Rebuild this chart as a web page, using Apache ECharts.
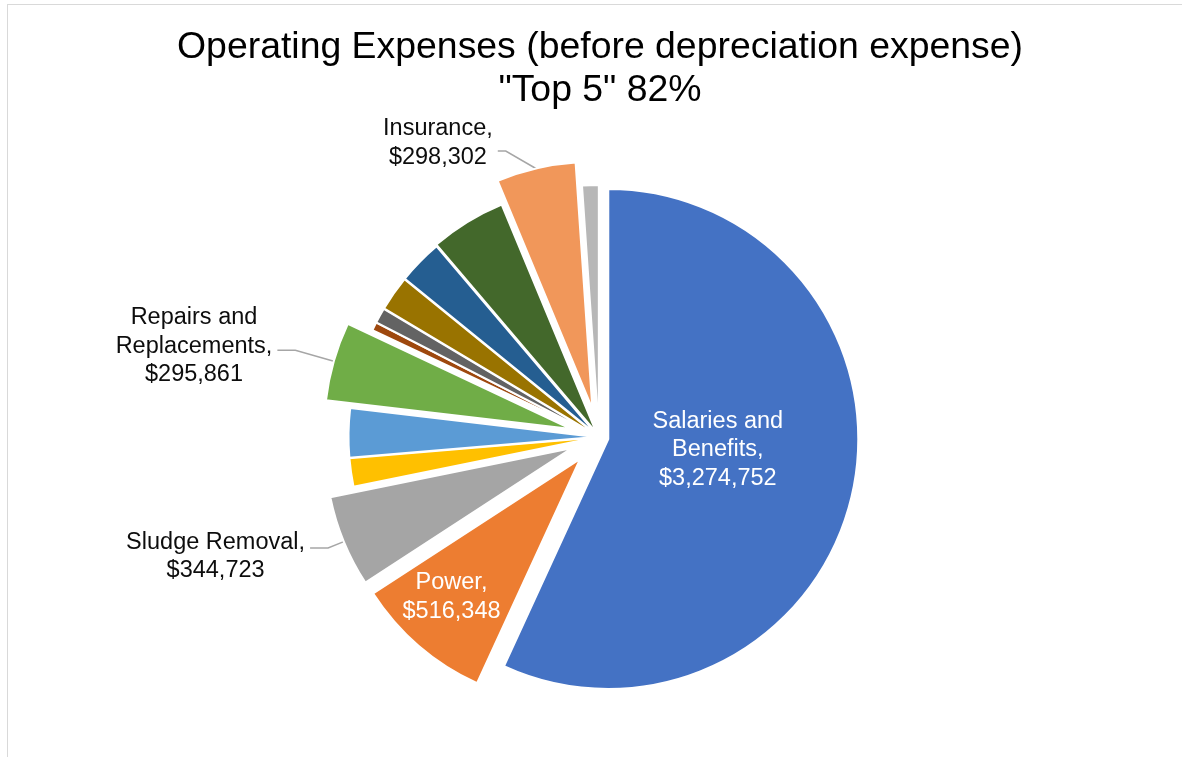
<!DOCTYPE html>
<html>
<head>
<meta charset="utf-8">
<script src="https://cdn.jsdelivr.net/npm/echarts@6/dist/echarts.min.js"></script>
<style>
  html, body { margin: 0; padding: 0; background: #fff; overflow: hidden; }
  #frame { position: absolute; left: 7px; top: 4px; width: 1300px; height: 900px; border: 1px solid #d9d9d9; }
  #chart { position: absolute; left: 0; top: 0; width: 1182px; height: 757px; }
</style>
</head>
<body>
<div id="frame"></div>
<div id="chart"></div>
<script>
// Operating expense categories, clockwise from 12 o'clock
const categories = [
  'Salaries and Benefits', 'Power', 'Sludge Removal', 'Other 1', 'Other 2',
  'Repairs and Replacements', 'Other 3', 'Other 4', 'Other 5', 'Other 6',
  'Other 7', 'Insurance', 'Other 8'
];
const amounts = [
  3274752, 516348, 344723, 107350, 184260,
  295861, 32050, 57680, 132990, 168240,
  285000, 298302, 62490
];
const titleLines = ['Operating Expenses (before depreciation expense)', '"Top 5" 82%'];

// Styling: slice colours, how far each slice is pulled out (px) and slice radius (px)
const colors = [
  '#4472C4', '#ED7D31', '#A5A5A5', '#FFC000', '#5B9BD5',
  '#70AD47', '#9E480E', '#636363', '#997300', '#255E91',
  '#43682B', '#F1975A', '#B7B7B7'
];
const explode = [9.5, 28.8, 28.8, 3.5, 3.5, 28.8, 3.5, 3.5, 3.5, 3.5, 5, 28.8, 5];
const radii   = [250, 247, 247, 247, 247, 247, 247, 247, 247, 247, 247, 247, 247];
const pieCenter = [599, 437];

// Label placement per labelled slice; "straight" leaders run directly to the text
const labelStyle = {
  0:  { position: 'inside',  rich: 'w', padding: [0, 31, 33, 0] },
  1:  { position: 'inside',  rich: 'w', padding: [85, 92, 0, 0] },
  2:  { position: 'outside', rich: 'k', padding: [17, 0, 0, 0], length: 17, length2: 18 },
  5:  { position: 'outside', rich: 'k', padding: [0, 0, 8, 0],  length: 40, length2: 18 },
  11: { position: 'outside', rich: 'k', padding: [0, 0, 16, 0], length: 18, length2: 34, straight: 8 }
};

const FONT = 'Liberation Sans, Arial, sans-serif';
const money = v => '$' + v.toLocaleString('en-US');

function makeFormatter(tag) {
  return function (p) {
    const text = p.name.replace(' and ', ' and\n') + ',\n' + money(p.value);
    return text.split('\n').map(l => '{' + tag + '|' + l + '}').join('\n');
  };
}

const rich = {
  w: { color: '#ffffff', fontFamily: FONT, fontSize: 23.5, lineHeight: 28.5, align: 'center' },
  k: { color: '#0d0d0d', fontFamily: FONT, fontSize: 23.5, lineHeight: 28.5, align: 'center' }
};

// Replace the elbow of a leader line with a diagonal run and a short flat end
function leaderLayout(params) {
  const ls = labelStyle[params.dataIndex];
  const pts = params.labelLinePoints;
  if (!ls || !ls.straight || !pts || pts.length < 3) return;
  const end = pts[2];
  const dir = end[0] < pts[1][0] ? 1 : -1;
  return {
    labelLinePoints: [pts[0], [end[0] + dir * ls.straight, end[1]], end]
  };
}

// One pie layer per explosion distance; every layer carries all values so the
// angles line up, but only draws the slices that belong to it.
const offsets = [...new Set(explode)].sort((a, b) => a - b);
const series = offsets.map(off => {
  const owner = explode.indexOf(off);
  return {
    type: 'pie',
    center: pieCenter,
    radius: radii[owner],
    startAngle: 90,
    clockwise: true,
    selectedMode: off > 0 ? 'multiple' : false,
    selectedOffset: off,
    avoidLabelOverlap: false,
    silent: true,
    animation: false,
    emphasis: { disabled: true },
    itemStyle: { borderColor: '#ffffff', borderWidth: 2 },
    select: { itemStyle: { borderColor: '#ffffff', borderWidth: 2 } },
    label: { show: false },
    labelLine: { show: false },
    labelLayout: leaderLayout,
    data: categories.map((name, i) => {
      const item = { name, value: amounts[i] };
      if (explode[i] !== off) {
        item.itemStyle = { color: 'rgba(0,0,0,0)', borderWidth: 0 };
        return item;
      }
      item.itemStyle = { color: colors[i] };
      if (off > 0) item.selected = true;
      const ls = labelStyle[i];
      if (ls) {
        item.label = {
          show: true,
          position: ls.position,
          formatter: makeFormatter(ls.rich),
          rich: rich,
          padding: ls.padding,
          distanceToLabelLine: 5,
          fontFamily: FONT,
          fontSize: 23.5,
          lineHeight: 28.5,
          color: ls.rich === 'w' ? '#ffffff' : '#0d0d0d'
        };
        if (ls.position === 'outside') {
          item.labelLine = {
            show: true,
            length: ls.length,
            length2: ls.length2,
            lineStyle: { color: '#a6a6a6', width: 1.5 }
          };
        }
      }
      return item;
    })
  };
});

const chart = echarts.init(document.getElementById('chart'), null, { renderer: 'canvas' });
chart.setOption({
  animation: false,
  title: {
    text: titleLines.join('\n'),
    left: 600,
    top: 26,
    textAlign: 'center',
    padding: 0,
    textStyle: {
      fontFamily: FONT,
      fontSize: 37.4,
      fontWeight: 'normal',
      color: '#000000',
      lineHeight: 43
    }
  },
  series: series
});
</script>
</body>
</html>
